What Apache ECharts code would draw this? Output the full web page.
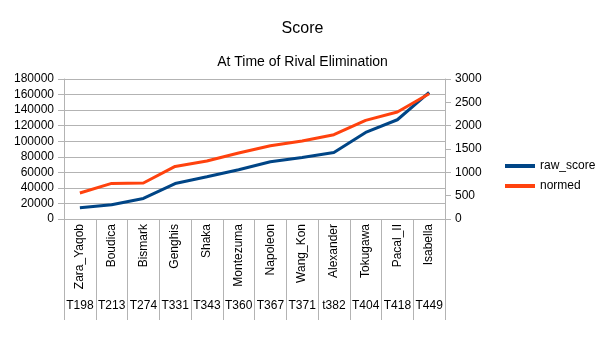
<!DOCTYPE html>
<html><head><meta charset="utf-8">
<script src="https://cdn.jsdelivr.net/npm/echarts@6/dist/echarts.min.js"></script>
<style>html,body{margin:0;padding:0;background:#fff}#c{width:605px;height:340px}</style>
</head><body><div id="c"></div>
<script>
var names = ['Zara_Yaqob','Boudica','Bismark','Genghis','Shaka','Montezuma','Napoleon','Wang_Kon','Alexander','Tokugawa','Pacal_II','Isabella'];
var turns = ['T198','T213','T274','T331','T343','T360','T367','T371','t382','T404','T418','T449'];
var rawScore = [14500, 18300, 26400, 45600, 54400, 63400, 73700, 79200, 85600, 111300, 127600, 162800];
var normed = [557, 763, 771, 1127, 1243, 1414, 1571, 1671, 1806, 2113, 2293, 2685];
var leftTicks = {min: 0, max: 180000, interval: 20000};
var rightTicks = {min: 0, max: 3000, interval: 500};

var FONT = 'Liberation Sans';
var gridColor = '#b3b3b3';
var plain = function (v) { return String(v); };
var chart = echarts.init(document.getElementById('c'), null, {renderer: 'canvas'});
chart.setOption({
  animation: false,
  textStyle: {fontFamily: FONT},
  title: {
    text: 'Score', subtext: 'At Time of Rival Elimination',
    left: 'center', top: 16, itemGap: 18,
    textStyle: {fontFamily: FONT, fontSize: 16, fontWeight: 'normal', color: '#000'},
    subtextStyle: {fontFamily: FONT, fontSize: 14, color: '#000'}
  },
  legend: {
    orient: 'vertical', left: 500, top: 155, itemWidth: 30, itemHeight: 4, itemGap: 8,
    icon: 'rect',
    textStyle: {fontFamily: FONT, fontSize: 12, color: '#000'},
    data: ['raw_score', 'normed']
  },
  grid: {left: 64, right: 160, top: 79, bottom: 121, containLabel: false},
  xAxis: [{
    type: 'category', data: names, position: 'bottom', boundaryGap: true,
    axisLine: {lineStyle: {color: gridColor, width: 1}},
    axisTick: {show: true, length: 101, lineStyle: {color: gridColor}},
    axisLabel: {rotate: 90, margin: 5, fontSize: 12, color: '#000', fontFamily: FONT, interval: 0},
    splitLine: {show: false}
  }, {
    type: 'category', data: turns, position: 'bottom', boundaryGap: true,
    axisLine: {show: false}, axisTick: {show: false},
    axisLabel: {margin: 81, fontSize: 12, color: '#000', fontFamily: FONT, interval: 0},
    splitLine: {show: false}
  }],
  yAxis: [{
    type: 'value', min: leftTicks.min, max: leftTicks.max, interval: leftTicks.interval,
    axisLine: {show: true, lineStyle: {color: gridColor}},
    axisTick: {show: true, length: 6, lineStyle: {color: gridColor}},
    axisLabel: {margin: 10, fontSize: 12, color: '#000', fontFamily: FONT, formatter: plain},
    splitLine: {show: true, lineStyle: {color: gridColor}}
  }, {
    type: 'value', min: rightTicks.min, max: rightTicks.max, interval: rightTicks.interval, position: 'right',
    axisLine: {show: true, lineStyle: {color: gridColor}},
    axisTick: {show: true, length: 6, lineStyle: {color: gridColor}},
    axisLabel: {margin: 10, fontSize: 12, color: '#000', fontFamily: FONT, formatter: plain},
    splitLine: {show: false}
  }],
  series: [{
    name: 'raw_score', type: 'line', data: rawScore, xAxisIndex: 0, yAxisIndex: 0,
    symbol: 'none', color: '#004586', lineStyle: {width: 3, color: '#004586'}
  }, {
    name: 'normed', type: 'line', data: normed, xAxisIndex: 0, yAxisIndex: 1,
    symbol: 'none', color: '#ff420e', lineStyle: {width: 3, color: '#ff420e'}
  }]
});
</script></body></html>
